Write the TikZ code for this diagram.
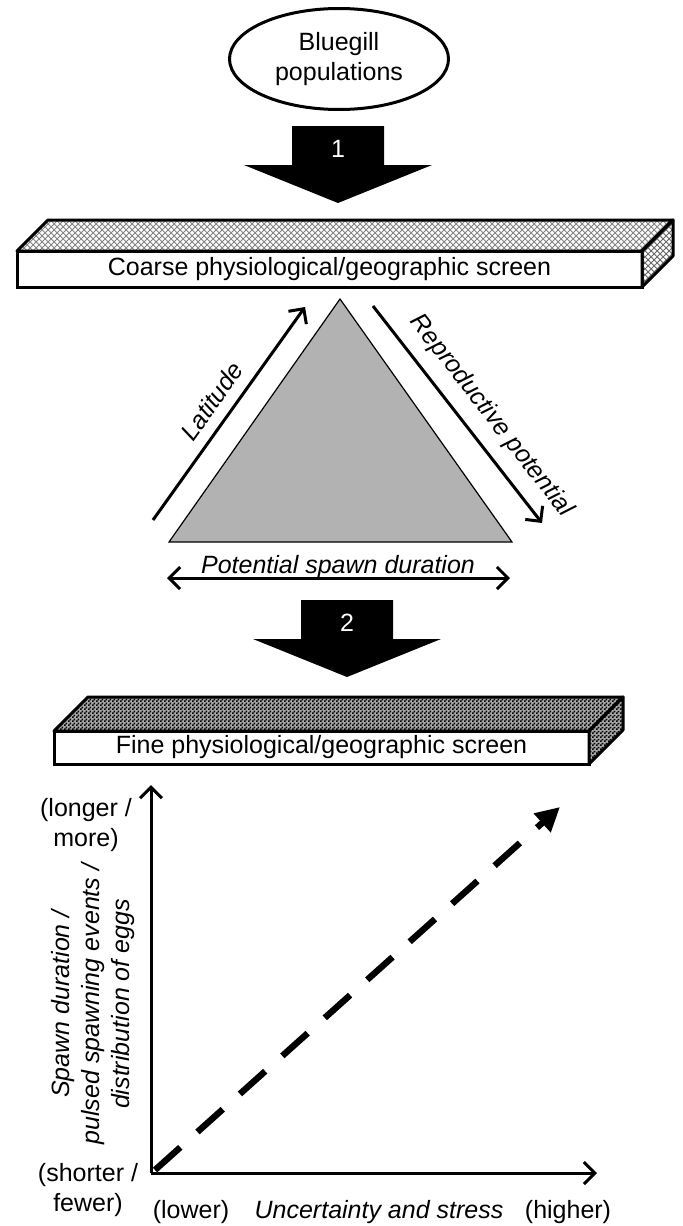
\documentclass[tikz,border=0pt]{standalone}
\usepackage{fontspec}
\setmainfont{Liberation Sans}
\usetikzlibrary{arrows.meta,positioning,shapes.geometric,patterns,calc}
\definecolor{trigray}{RGB}{178,178,178}
\definecolor{hatchgray}{RGB}{130,130,130}
\pgfdeclarepatternformonly{finecheck}{\pgfqpoint{0pt}{0pt}}{\pgfqpoint{2pt}{2pt}}{\pgfqpoint{2pt}{2pt}}{%
  \pgfpathrectangle{\pgfqpoint{0pt}{0pt}}{\pgfqpoint{1pt}{1pt}}%
  \pgfpathrectangle{\pgfqpoint{1pt}{1pt}}{\pgfqpoint{1pt}{1pt}}%
  \pgfusepath{fill}}
\tikzset{
  txt/.style={font=\fontsize{12.5}{15}\selectfont},
  itxt/.style={font=\fontsize{12.5}{15}\selectfont\itshape},
  screen/.style={draw, line width=1.5pt, fill=white, inner sep=0pt, outer sep=0pt, txt},
  coarseface/.style={draw, line width=1.5pt, line join=round, pattern=crosshatch, pattern color=hatchgray},
  fineface/.style={draw, line width=1.5pt, line join=round, preaction={fill=black!35}, pattern=finecheck, pattern color=black},
  sidearrow/.style={line width=1.5pt, -{Straight Barb[length=5.5pt,width=11pt]}},
  bothways/.style={line width=1.5pt, {Straight Barb[length=5.5pt,width=11pt]}-{Straight Barb[length=5.5pt,width=11pt]}},
  axis/.style={line width=1.5pt, -{Straight Barb[length=5.5pt,width=11pt]}},
  trendline/.style={line width=3.2pt, dash pattern=on 17pt off 11.5pt, -{Triangle[length=12pt,width=12pt]}}
}

\begin{document}
\begin{tikzpicture}[x={(0.5pt,0)}, y={(0,-0.5pt)}]
  \useasboundingbox (0,0) rectangle (682,1226);

  \node[draw, ellipse, line width=1.5pt, minimum width=109.5pt, minimum height=50.5pt, inner sep=0pt, align=center, txt] (bluegill) at (339,59) {Bluegill\\populations};

  \foreach \cx/\cy/\num in {338/126/1, 347/600/2}{
    \fill (\cx-46,\cy) -- (\cx+46,\cy) -- (\cx+46,\cy+39) -- (\cx+94,\cy+39) -- (\cx,\cy+77) -- (\cx-94,\cy+39) -- (\cx-46,\cy+39) -- cycle;
    \node[txt, text=white] (stage\num) at (\cx,\cy+23) {\num};
  }

  \node[screen, minimum width=312.5pt, minimum height=18pt] (coarse) at (329.5,269) {Coarse physiological/geographic screen};
  \draw[coarseface] (coarse.north west) -- ++(31,-31) -- ++(625,0) -- (coarse.north east) -- cycle;
  \draw[coarseface, pattern color=black!60] (coarse.north east) -- ++(31,-31) -- ++(0,36) -- (coarse.south east) -- cycle;

  \coordinate (apex) at (340,299);
  \coordinate (baseL) at (169,542);
  \coordinate (baseR) at (512,542);
  \draw[fill=trigray, line width=0.6pt] (apex) -- (baseR) -- (baseL) -- cycle;

  \coordinate (latS) at (153,520);
  \coordinate (latE) at (305,307);
  \draw[sidearrow] (latS) -- (latE) node[midway, sloped, above=2pt, itxt] (latlabel) {Latitude};
  \coordinate (repS) at (373,306);
  \coordinate (repE) at (542,523);
  \draw[sidearrow] (repS) -- (repE) node[pos=0.58, sloped, above=3pt, itxt] (replabel) {Reproductive potential};
  \coordinate (spawnL) at (167,578);
  \coordinate (spawnR) at (510,578);
  \draw[bothways] (spawnL) -- (spawnR);
  \node[itxt, anchor=base] (spawnlabel) at (338,573) {Potential spawn duration};

  \node[screen, minimum width=267.5pt, minimum height=16.5pt] (fine) at (321.5,747.5) {Fine physiological/geographic screen};
  \draw[fineface] (fine.north west) -- ++(34,-34) -- ++(535,0) -- (fine.north east) -- cycle;
  \draw[fineface] (fine.north east) -- ++(34,-34) -- ++(0,33) -- (fine.south east) -- cycle;

  \coordinate (origin) at (151,1173);
  \coordinate (ytip) at (151,785);
  \coordinate (xtip) at (597,1173);
  \coordinate (trendS) at (155,1170);
  \coordinate (trendE) at (560,807);
  \draw[axis] (origin) -- (ytip);
  \draw[axis] (origin) -- (xtip);
  \draw[trendline] (trendS) -- (trendE);

  \node[txt, align=center] (longer) at (86,825) {(longer /\\more)};
  \node[txt, align=center] (shorter) at (88,1190) {(shorter /\\fewer)};
  \node[itxt, align=center, rotate=90] (ylabel) at (93,1004) {Spawn duration /\\pulsed spawning events /\\distribution of eggs};
  \node[txt] (lower) at (191,1212) {(lower)};
  \node[itxt] (stress) at (379,1212) {Uncertainty and stress};
  \node[txt] (higher) at (568,1212) {(higher)};
\end{tikzpicture}
\end{document}
